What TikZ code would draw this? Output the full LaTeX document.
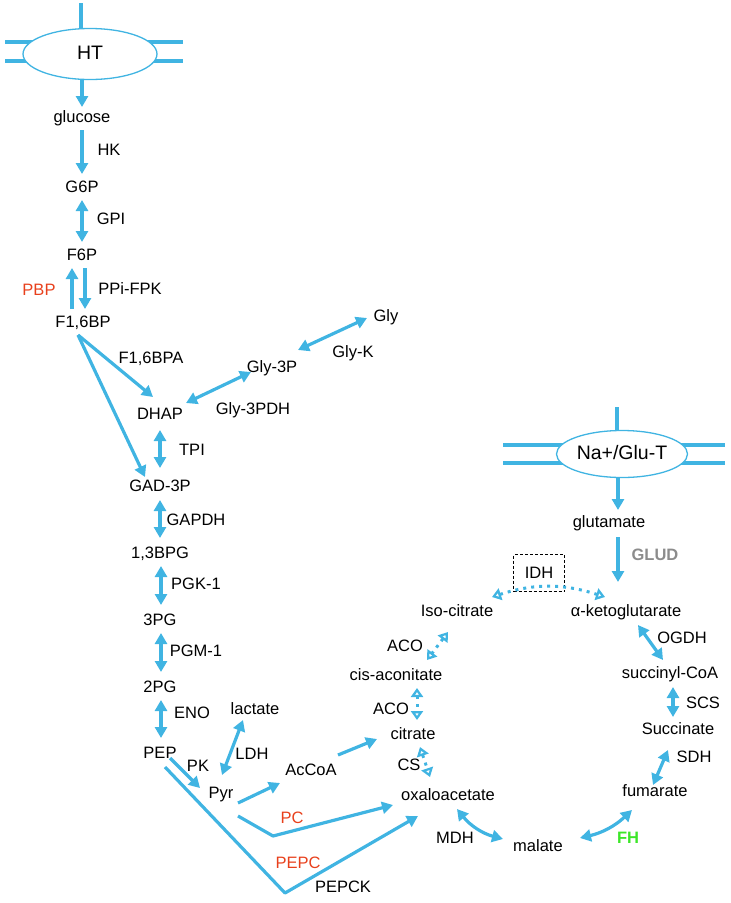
\documentclass[tikz,border=0pt]{standalone}
\usepackage{fontspec}
\setmainfont{Liberation Sans}
\usetikzlibrary{arrows.meta,calc,shapes.geometric}
\definecolor{lblue}{RGB}{64,180,226}
\definecolor{lred}{RGB}{232,64,28}
\definecolor{lgray}{RGB}{140,140,140}
\definecolor{lgreen}{RGB}{60,230,40}
\begin{document}
\begin{tikzpicture}[x=1pt,y=-1pt,
  every node/.style={font=\fontsize{16.5}{18}\selectfont, inner sep=0pt, text height=11.8pt, text depth=0pt},
  arr/.style={draw=lblue, line width=3.2pt, -{Triangle[length=11pt,width=12pt]}},
  dbl/.style={draw=lblue, line width=3.2pt, {Triangle[length=11pt,width=12pt]}-{Triangle[length=11pt,width=12pt]}},
  dotarr/.style={draw=lblue, line width=3pt, dash pattern=on 3pt off 5pt, {Triangle[open,length=9pt,width=12pt,line width=2.6pt]}-{Triangle[open,length=9pt,width=12pt,line width=2.6pt]}},
  mem/.style={draw=lblue, line width=3.2pt},
  transp/.style={ellipse, draw=lblue, line width=1.3pt, fill=white, font=\fontsize{19.5}{21}\selectfont},
  enzred/.style={text=lred},
  enzgray/.style={text=lgray, font=\fontsize{16.5}{18}\selectfont\bfseries},
  enzgreen/.style={text=lgreen, font=\fontsize{16.5}{18}\selectfont\bfseries},
  idhbox/.style={draw=black, line width=0.8pt, dash pattern=on 3pt off 2pt, minimum width=51pt, minimum height=37pt}
]
\useasboundingbox (0,0) rectangle (731,903);
% membranes
\draw[mem] (5,42) -- (183,42);
\draw[mem] (5,61) -- (183,61);
\draw[mem] (81,3) -- (81,32);
\draw[mem] (503,445) -- (725,445);
\draw[mem] (503,463) -- (725,463);
\draw[mem] (617,407) -- (617,434);
\node[transp, minimum width=134pt, minimum height=51pt] (HT) at (90,54) {HT};
\node[transp, minimum width=131pt, minimum height=47pt] (NaGluT) at (622,454) {Na+/Glu-T};

% metabolites
\node (glucose) at (82,117) {glucose};
\node (G6P) at (82,187) {G6P};
\node (F6P) at (82,255) {F6P};
\node (F16BP) at (83,322) {F1,6BP};
\node (DHAP) at (160,414) {DHAP};
\node (Gly3P) at (272,367) {Gly-3P};
\node (Gly) at (386,316) {Gly};
\node (GAD3P) at (160,486) {GAD-3P};
\node (BPG13) at (160,553) {1,3BPG};
\node (PG3) at (160,620) {3PG};
\node (PG2) at (160,687) {2PG};
\node (PEP) at (160,753) {PEP};
\node (lactate) at (255,709) {lactate};
\node (Pyr) at (221,793) {Pyr};
\node (AcCoA) at (311,770) {AcCoA};
\node (citrate) at (413,734) {citrate};
\node (oxalo) at (448,795) {oxaloacetate};
\node (malate) at (538,846) {malate};
\node (fumarate) at (655,791) {fumarate};
\node (Succinate) at (678,729) {Succinate};
\node (succCoA) at (670,673) {succinyl-CoA};
\node (aKG) at (626,611) {α-ketoglutarate};
\node (glutamate) at (609,522) {glutamate};
\node (Isocitrate) at (457,611) {Iso-citrate};
\node (cisacon) at (396,675) {cis-aconitate};
\node[idhbox] (IDH) at (539,573) {IDH};

% enzyme labels
\node (HK) at (109,150) {HK};
\node (GPI) at (111,219) {GPI};
\node[enzred] (PBP) at (39,290) {PBP};
\node (PPiFPK) at (130,289) {PPi-FPK};
\node (F16BPA) at (151,358) {F1,6BPA};
\node (GlyK) at (353,352) {Gly-K};
\node (Gly3PDH) at (253,409) {Gly-3PDH};
\node (TPI) at (192,450) {TPI};
\node (GAPDH) at (196,520) {GAPDH};
\node (PGK1) at (196,584) {PGK-1};
\node (PGM1) at (196,651) {PGM-1};
\node (ENO) at (192,713) {ENO};
\node (LDH) at (252,754) {LDH};
\node (PK) at (198,766) {PK};
\node[enzred] (PC) at (292,818) {PC};
\node[enzred] (PEPC) at (298,863) {PEPC};
\node (PEPCK) at (343,887) {PEPCK};
\node (MDH) at (455,838) {MDH};
\node[enzgreen] (FH) at (628,838) {FH};
\node (SDH) at (694,757) {SDH};
\node (SCS) at (703,703) {SCS};
\node (OGDH) at (682,638) {OGDH};
\node[enzgray] (GLUD) at (655,555) {GLUD};
\node (ACOa) at (405,646) {ACO};
\node (ACOb) at (391,709) {ACO};
\node (CS) at (409,765) {CS};

\coordinate (pcbend) at (273,836);
\coordinate (pepcbend) at (285,893);

% glycolysis
\draw[arr] (HT.south -| glucose.center) -- ([shift={(0,-10)}]glucose.center);
\draw[arr] ([shift={(0,13)}]glucose.center) -- ([shift={(0,-13)}]G6P.center);
\draw[dbl] ([shift={(0,13)}]G6P.center) -- ([shift={(0,-13)}]F6P.center);
\draw[arr] ([shift={(3,13)}]F6P.center) -- ([shift={(2,-13)}]F16BP.center);
\draw[arr] ([shift={(-11,-13)}]F16BP.center) -- ([shift={(-10,13)}]F6P.center);
\draw[arr] ([shift={(-5,13)}]F16BP.center) -- ([shift={(-7,-17)}]DHAP.center);
\draw[arr] ([shift={(-5,13)}]F16BP.center) -- ([shift={(-15,-9)}]GAD3P.center);
\draw[dbl] ([shift={(26,-11)}]DHAP.center) -- ([shift={(-21,5)}]Gly3P.center);
\draw[dbl] ([shift={(26,-17)}]Gly3P.center) -- ([shift={(-19,2)}]Gly.center);
\draw[dbl] ([shift={(0,16)}]DHAP.center) -- ([shift={(0,-18)}]GAD3P.center);
\draw[dbl] ([shift={(0,14)}]GAD3P.center) -- ([shift={(0,-15)}]BPG13.center);
\draw[dbl] ([shift={(1,13)}]BPG13.center) -- ([shift={(1,-15)}]PG3.center);
\draw[dbl] ([shift={(1,13)}]PG3.center) -- ([shift={(1,-15)}]PG2.center);
\draw[dbl] ([shift={(1,13)}]PG2.center) -- ([shift={(1,-15)}]PEP.center);
\draw[arr] ([shift={(10,5)}]PEP.center) -- ([shift={(-21,-5)}]Pyr.center);
\draw[dbl] ([shift={(-12,11)}]lactate.center) -- ([shift={(1,-18)}]Pyr.center);
\draw[arr] ([shift={(17,10)}]Pyr.center) -- ([shift={(-31,13)}]AcCoA.center);
\draw[arr] ([shift={(27,-15)}]AcCoA.center) -- ([shift={(-36,5)}]citrate.center);
\draw[arr, line join=round] ([shift={(17,23)}]Pyr.center) -- (pcbend) -- ([shift={(-55,10)}]oxalo.center);
\draw[arr, line join=round] ([shift={(5,14)}]PEP.center) -- (pepcbend) -- ([shift={(-30,21)}]oxalo.center);

% TCA
\draw[dbl] ([shift={(9,14)}]oxalo.center) to[bend right=18] ([shift={(-35,-7)}]malate.center);
\draw[dbl] ([shift={(42,-8)}]malate.center) to[bend right=15] ([shift={(-23,19)}]fumarate.center);
\draw[dbl] ([shift={(-2,-6)}]fumarate.center) -- ([shift={(-10,21)}]Succinate.center);
\draw[dbl] ([shift={(-5,-12)}]Succinate.center) -- ([shift={(3,14)}]succCoA.center);
\draw[dbl] ([shift={(-7,-13)}]succCoA.center) -- ([shift={(12,14)}]aKG.center);
\draw[arr] ([shift={(9,15)}]glutamate.center) -- ([shift={(-8,-29)}]aKG.center);
\draw[arr] ([xshift=-4pt]NaGluT.south) -- ([shift={(9,-12)}]glutamate.center);
\draw[dotarr] ([shift={(35,-14)}]Isocitrate.center) to[bend left=18] ([shift={(-21,-14)}]aKG.center);
\draw[dotarr] ([shift={(-9,21)}]Isocitrate.center) -- ([shift={(31,-15)}]cisacon.center);
\draw[dotarr] ([shift={(21,13)}]cisacon.center) -- ([shift={(4,-14)}]citrate.center);
\draw[dotarr] ([shift={(7,13)}]citrate.center) -- ([shift={(-18,-18)}]oxalo.center);
\end{tikzpicture}
\end{document}
